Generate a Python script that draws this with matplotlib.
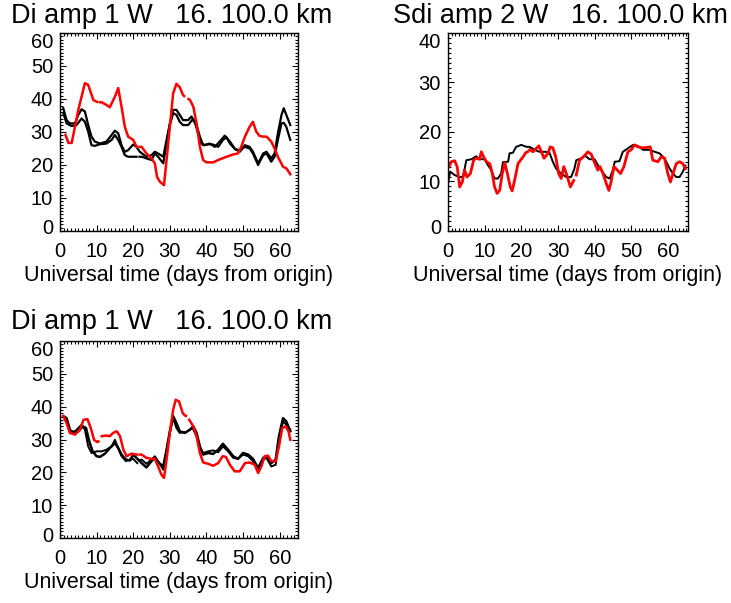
# Tidal amplitude panels (Di / Sdi), model vs observation
import numpy as np
import matplotlib.pyplot as plt
from matplotlib.ticker import MultipleLocator
from matplotlib.transforms import ScaledTranslation

plt.rcParams['font.family'] = ['Liberation Sans', 'DejaVu Sans']

nan = np.nan

# ---- panel 1 : Di amp 1 W (top left) ----
p1_t_blk1 = [0.9, 1.8, 2.7, 4.1, 5.0, 5.9, 6.8, 7.7, 8.6, 9.5, 10.9, 12.7, 14.1, 15.0, 15.9,
             16.8, 17.7, 18.6, 20.0, 20.9, 21.8, 23.6, 25.0, 25.9, 26.8, 28.2, 29.1, 30.0,
             30.9, 31.8, 32.7, 33.6, 35.0, 35.9, 36.8, 37.7, 38.6, 39.5, 40.9, 42.3, 43.6,
             45.0, 46.4, 47.7, 49.1, 50.5, 51.8, 52.7, 54.1, 55.5, 56.4, 57.7, 58.6, 59.5,
             60.5, 61.1, 61.8, 62.9]
p1_v_blk1 = [37.2, 33.6, 32.6, 32.6, 35.2, 36.9, 36.2, 32.1, 28.6, 27.1, 26.5, 27.1, 29.1,
             30.4, 29.6, 26.0, 24.0, 24.5, 26.2, 25.5, 24.0, 22.5, 23.0, 24.0, 23.5, 22.5,
             27.6, 32.6, 36.7, 36.7, 35.2, 33.6, 33.6, 34.7, 33.1, 29.6, 26.5, 26.0, 26.5,
             25.5, 27.1, 28.9, 27.1, 25.0, 24.0, 26.0, 25.5, 24.0, 20.5, 23.5, 24.0, 22.0,
             23.5, 29.6, 35.2, 37.2, 35.2, 32.1]
p1_t_blk2 = [0.9, 1.8, 3.2, 4.5, 5.9, 6.8, 7.7, 8.6, 9.5, 10.9, 12.7, 14.1, 15.0, 15.9, 16.8,
             17.7, 18.6, 20.0, 20.9, 21.3, 21.7, 22.3, 23.6, 25.0, 25.9, 26.8, 28.2, 29.1,
             30.0, 30.9, 31.8, 32.7, 33.6, 35.0, 36.2, 37.3, 38.2, 39.1, 40.5, 41.8, 43.2,
             44.5, 45.5, 46.4, 47.9, 49.1, 50.5, 51.8, 52.7, 54.1, 55.5, 56.4, 57.7, 58.6,
             59.5, 60.5, 61.1, 61.8, 62.9]
p1_v_blk2 = [35.7, 32.6, 31.8, 32.1, 34.1, 33.1, 30.1, 26.0, 25.8, 26.3, 26.5, 27.6, 29.1,
             27.6, 25.5, 23.0, 22.5, 22.5, 22.5, nan, 22.5, 22.5, 22.0, 21.5, 23.5, 22.5,
             20.5, 26.5, 32.1, 35.7, 35.2, 33.1, 32.1, 32.1, 33.8, 32.1, 28.6, 26.0, 26.3,
             26.2, 25.5, 27.6, 28.4, 26.5, 24.7, 24.5, 25.5, 25.0, 23.5, 20.0, 23.0, 23.5,
             21.0, 22.5, 27.6, 32.6, 32.8, 31.6, 27.6]
p1_t_red = [1.5, 2.3, 3.2, 5.0, 6.8, 7.7, 9.1, 10.0, 10.2, 10.6, 11.0, 11.4, 12.7, 13.6,
            15.0, 15.9, 16.8, 17.7, 18.6, 20.0, 20.9, 21.1, 21.5, 21.9, 22.3, 23.6, 25.0,
            25.9, 26.5, 27.3, 28.4, 29.1, 30.0, 30.9, 31.8, 32.7, 33.6, 33.9, 34.5, 35.1,
            35.5, 36.4, 37.3, 38.2, 39.1, 40.0, 41.8, 43.6, 45.5, 47.3, 48.6, 49.5, 50.5,
            51.8, 52.7, 53.6, 54.5, 55.5, 56.4, 57.7, 58.6, 59.5, 60.9, 61.8, 62.9]
p1_v_red = [29.1, 26.7, 26.7, 36.7, 44.8, 44.3, 39.7, 39.2, 39.1, nan, 39.0, 39.0, 38.2,
            37.5, 40.7, 43.3, 37.7, 31.6, 28.6, 27.6, 25.5, 25.5, nan, 25.5, 25.5, 23.5,
            22.0, 20.5, 16.4, 14.9, 13.9, 21.5, 31.6, 41.7, 44.6, 43.6, 41.2, 40.9, nan,
            40.0, 39.7, 37.7, 32.6, 25.5, 21.5, 20.8, 20.8, 21.7, 22.5, 23.2, 23.5, 25.5,
            28.6, 31.6, 33.1, 30.1, 28.8, 28.6, 28.6, 27.1, 25.0, 22.5, 19.5, 19.0, 17.2]

# ---- panel 2 : Sdi amp 2 W (top right) ----
p2_t_blk = [0.0, 0.6, 1.8, 3.2, 4.1, 5.0, 6.4, 7.7, 8.6, 10.0, 10.9, 11.8, 12.7, 13.6, 14.5,
            15.0, 16.4, 16.8, 17.7, 18.6, 20.0, 21.4, 22.3, 23.6, 25.0, 26.8, 27.7, 28.6,
            29.5, 30.9, 32.3, 33.6, 34.5, 35.0, 36.4, 37.3, 38.6, 40.0, 40.9, 41.8, 43.2,
            44.1, 45.0, 45.5, 46.8, 47.7, 49.1, 50.5, 51.8, 53.2, 55.0, 56.4, 57.7, 59.1,
            60.5, 61.4, 62.3, 63.2, 64.1, 64.8]
p2_v_blk = [9.6, 12.0, 11.3, 10.9, 10.9, 14.3, 14.5, 15.1, 14.5, 14.5, 13.3, 12.3, 10.6, 10.6,
            11.6, 13.9, 14.0, 15.7, 15.8, 17.0, 17.4, 17.0, 17.0, 16.4, 16.0, 16.0, 15.8, 14.0,
            12.6, 11.6, 10.9, 10.9, 12.6, 14.3, 14.7, 15.3, 14.5, 14.5, 13.3, 12.3, 10.9, 10.6,
            12.3, 14.0, 14.1, 16.0, 16.7, 17.4, 17.2, 16.4, 16.4, 16.0, 15.7, 14.7, 12.6, 11.6,
            10.9, 10.9, 12.0, 13.2]
p2_t_red = [0.3, 0.9, 1.8, 2.5, 3.2, 3.9, 4.5, 5.2, 6.1, 7.0, 7.7, 8.6, 9.1, 9.7, 10.5, 11.4,
            12.1, 12.7, 13.4, 14.1, 14.8, 15.5, 16.2, 17.0, 17.5, 18.2, 19.1, 20.5, 21.2, 21.7,
            22.0, 22.3, 23.2, 24.1, 24.8, 25.5, 26.2, 27.3, 27.9, 28.6, 29.4, 30.2, 30.9, 31.6,
            32.3, 33.4, 34.1, 34.3, 34.6, 35.0, 35.9, 37.0, 38.2, 39.1, 40.0, 40.9, 41.5, 42.3,
            43.2, 43.9, 44.5, 45.3, 46.2, 47.1, 48.0, 49.1, 50.0, 50.9, 51.8, 53.2, 54.5, 55.2,
            55.9, 57.3, 58.2, 59.1, 60.0, 60.7, 61.4, 62.3, 63.2, 64.1, 64.8]
p2_v_red = [13.0, 14.0, 14.2, 13.0, 8.9, 9.9, 12.3, 10.9, 11.6, 14.3, 14.7, 14.5, 16.0, 15.0,
            14.0, 13.6, 11.6, 8.9, 7.6, 8.2, 11.6, 13.8, 11.6, 8.9, 8.1, 10.3, 13.6, 15.0, 15.8,
            16.0, nan, 16.4, 16.0, 16.7, 17.2, 16.0, 14.7, 15.7, 17.0, 16.8, 15.0, 11.6, 10.6,
            13.0, 11.6, 8.9, 9.9, 10.2, nan, 11.3, 14.3, 15.0, 16.0, 15.5, 13.8, 12.3, 13.0,
            11.6, 9.6, 8.2, 9.9, 13.0, 12.3, 11.6, 13.0, 16.0, 16.4, 17.4, 17.0, 16.8, 16.9,
            17.0, 14.3, 14.0, 15.0, 14.7, 11.6, 9.9, 11.6, 13.6, 14.0, 13.6, 12.6]

# ---- panel 3 : Di amp 1 W (bottom left) ----
p3_t_blk1 = [0.9, 1.8, 2.7, 3.6, 5.0, 6.2, 7.1, 8.0, 8.9, 10.0, 10.9, 12.3, 13.6, 15.0, 15.9,
             16.8, 18.0, 19.1, 20.0, 20.9, 22.3, 23.6, 25.0, 25.9, 27.1, 28.2, 29.1, 30.0,
             30.9, 31.8, 32.7, 34.1, 35.5, 36.4, 37.3, 38.2, 39.1, 40.5, 41.8, 43.2, 44.5,
             45.9, 47.3, 48.6, 50.0, 51.4, 52.7, 54.1, 55.5, 56.4, 57.7, 58.9, 59.8, 60.9,
             61.8, 62.9]
p3_v_blk1 = [37.1, 36.5, 33.0, 32.0, 32.5, 34.0, 33.5, 29.4, 26.4, 24.9, 24.7, 25.7, 27.4,
             28.9, 27.4, 25.4, 23.9, 23.6, 25.4, 24.4, 22.8, 21.5, 23.4, 24.4, 22.8, 21.8,
             26.9, 32.5, 37.1, 35.0, 32.5, 32.0, 33.0, 34.0, 32.0, 27.9, 25.4, 25.9, 25.6,
             26.9, 28.7, 26.9, 24.9, 24.1, 25.9, 25.4, 24.1, 21.3, 24.4, 24.9, 22.8, 23.9,
             31.0, 36.5, 35.5, 32.5]
p3_t_blk2 = [0.9, 1.8, 2.7, 4.1, 5.9, 6.8, 7.7, 8.6, 10.0, 11.4, 12.7, 14.1, 15.0, 15.9, 16.8,
             18.0, 19.1, 20.0, 21.1, 21.3, 21.7, 22.3, 23.6, 25.0, 25.9, 27.1, 28.2, 29.1,
             30.0, 30.9, 31.8, 32.7, 34.5, 36.2, 37.3, 38.2, 39.1, 40.5, 41.8, 43.2, 44.5,
             45.9, 47.3, 48.6, 50.0, 51.4, 52.7, 54.1, 55.5, 56.4, 57.7, 58.9, 59.8, 60.9,
             61.8, 62.9]
p3_v_blk2 = [37.1, 35.5, 32.5, 32.5, 34.5, 33.0, 27.9, 25.9, 26.4, 26.4, 26.9, 27.9, 29.9,
             27.4, 24.9, 23.4, 23.9, 24.1, 22.8, nan, 23.6, 23.9, 22.6, 23.9, 24.9, 22.8,
             20.8, 26.4, 32.0, 36.5, 33.5, 32.0, 32.3, 33.5, 31.0, 27.4, 25.9, 26.4, 26.7,
             26.1, 27.9, 26.4, 24.4, 24.1, 25.4, 24.9, 23.4, 20.8, 23.9, 24.4, 21.8, 22.3,
             29.9, 35.5, 34.5, 33.0]
p3_t_red = [0.9, 1.8, 2.7, 4.1, 5.5, 6.4, 7.5, 8.4, 9.3, 10.2, 10.5, 10.9, 11.4, 12.5, 13.6,
            14.5, 15.5, 16.4, 17.3, 18.2, 19.5, 20.9, 21.1, 21.5, 21.9, 22.3, 23.6, 25.0, 25.9,
            26.8, 27.7, 28.4, 29.1, 30.0, 30.9, 31.6, 32.5, 33.5, 34.1, 34.4, 34.8, 35.3, 36.4,
            37.3, 38.2, 39.1, 40.5, 41.8, 43.2, 44.4, 45.3, 46.4, 47.7, 49.1, 50.5, 51.8, 53.2,
            54.1, 55.0, 55.9, 56.8, 57.7, 58.9, 59.8, 60.7, 61.6, 62.4, 62.9]
p3_v_red = [37.1, 35.0, 32.0, 31.5, 33.0, 36.0, 36.2, 33.5, 29.9, 29.2, 29.4, nan, 31.0, 31.2,
            31.0, 32.0, 32.5, 31.0, 26.9, 24.9, 25.7, 25.4, 25.4, nan, 25.4, 25.4, 24.4, 24.1,
            24.1, 21.8, 19.3, 18.3, 23.9, 32.0, 39.1, 42.1, 41.6, 38.1, 37.3, 37.2, nan, 36.0,
            34.0, 31.0, 25.9, 23.0, 22.6, 22.0, 22.8, 24.9, 24.7, 22.3, 20.3, 20.3, 22.8, 23.0,
            22.3, 19.8, 21.8, 24.9, 25.1, 23.4, 23.4, 27.9, 33.5, 34.0, 32.5, 29.9]

titles = ['Di amp 1 W   16. 100.0 km', 'Sdi amp 2 W   16. 100.0 km', 'Di amp 1 W   16. 100.0 km']
xlab = 'Universal time (days from origin)'

W, H = 731, 603
fig = plt.figure(figsize=(W / 100, H / 100), dpi=100)


def px_axes(l, t, r, b):
    return fig.add_axes([l / W, 1 - b / H, (r - l) / W, (b - t) / H])


def style(ax, xmax, ymax, title, title_x, title_y):
    ax.set_xlim(0, xmax)
    ax.set_ylim(0, ymax)
    ax.xaxis.set_major_locator(MultipleLocator(10))
    ax.xaxis.set_minor_locator(MultipleLocator(1))
    ax.yaxis.set_major_locator(MultipleLocator(10))
    ax.yaxis.set_minor_locator(MultipleLocator(1))
    ax.tick_params(which='both', direction='in', top=True, right=True, width=0.8)
    ax.tick_params(which='major', length=4, labelsize=14.5)
    ax.tick_params(which='minor', length=2)
    ax.tick_params(axis='x', pad=8)
    ax.tick_params(axis='y', pad=5)
    for s in ax.spines.values():
        s.set_linewidth(1.0)
    ax.set_xlabel(xlab, fontsize=15.5, labelpad=3)
    fig.text(title_x / W, 1 - title_y / H, title, fontsize=19.5, ha='center', va='baseline')


ax1 = px_axes(60, 33, 298, 231)
ax1.plot(p1_t_blk1, p1_v_blk1, color='black', lw=1.6)
ax1.plot(p1_t_blk2, p1_v_blk2, color='black', lw=1.6)
ax1.plot(p1_t_red, p1_v_red, color='red', lw=1.8)
style(ax1, 65, 60, titles[0], 172, 23)

ax2 = px_axes(448, 33, 688, 231)
ax2.plot(p2_t_blk, p2_v_blk, color='black', lw=1.4)
ax2.plot(p2_t_red, p2_v_red, color='red', lw=2.0)
style(ax2, 65.5, 40, titles[1], 560, 23)

ax3 = px_axes(60, 341, 298, 538)
ax3.plot(p3_t_blk1, p3_v_blk1, color='black', lw=1.8)
ax3.plot(p3_t_blk2, p3_v_blk2, color='black', lw=1.4)
ax3.plot(p3_t_red, p3_v_red, color='red', lw=1.8)
style(ax3, 65, 60, titles[2], 172, 329)

# IDL pulls the end labels of the y axis inwards
fig.canvas.draw()
for ax in (ax1, ax2, ax3):
    lo, hi = ax.get_ylim()
    for tk in ax.yaxis.get_major_ticks():
        if abs(tk.get_loc() - hi) < 1e-6:
            tk.label1.set_transform(tk.label1.get_transform() + ScaledTranslation(0, -8 / 100, fig.dpi_scale_trans))
        elif abs(tk.get_loc() - lo) < 1e-6:
            tk.label1.set_transform(tk.label1.get_transform() + ScaledTranslation(0, 4 / 100, fig.dpi_scale_trans))

fig.savefig('out.png', dpi=100)
